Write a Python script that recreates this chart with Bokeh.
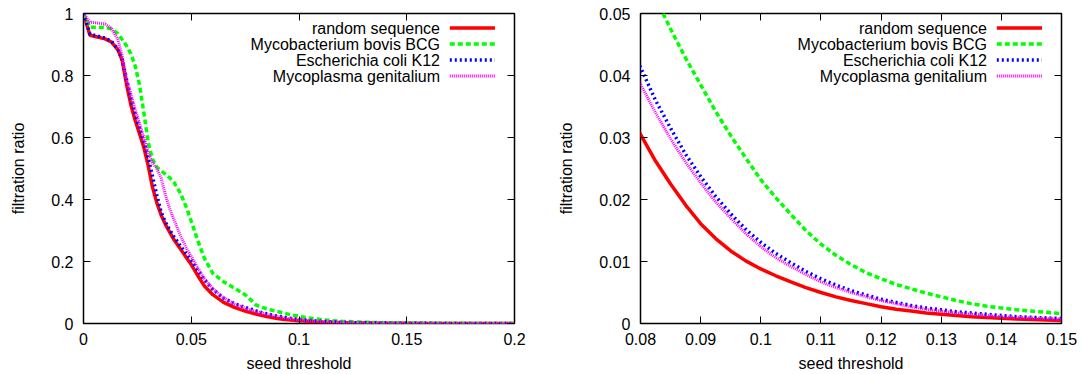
from bokeh.plotting import figure
from bokeh.models import Range1d, LinearAxis, FixedTicker, CustomJSTickFormatter, Label, Arrow
from bokeh.layouts import row
from bokeh.embed import file_html
from bokeh.resources import INLINE

# ---------------- data ----------------
seed_threshold = [0, 0.003, 0.006, 0.01, 0.013, 0.016, 0.018, 0.02, 0.022, 0.024, 0.026, 0.028,
                  0.03, 0.032, 0.034, 0.036, 0.038, 0.04, 0.042, 0.045, 0.048, 0.05, 0.053, 0.056,
                  0.06, 0.065, 0.07, 0.075,
                  0.08, 0.0825, 0.085, 0.0875, 0.09, 0.0925, 0.095, 0.0975, 0.1, 0.1025, 0.105,
                  0.1075, 0.11, 0.1125, 0.115, 0.1175, 0.12, 0.1225, 0.125, 0.1275, 0.13, 0.1325,
                  0.135, 0.1375, 0.14, 0.1425, 0.145, 0.1475, 0.15,
                  0.16, 0.17, 0.18, 0.19, 0.2]

random_sequence = [1.0, 0.93, 0.925, 0.918, 0.908, 0.883, 0.848, 0.77, 0.705, 0.655, 0.612, 0.568,
                   0.51, 0.44, 0.39, 0.35, 0.32, 0.295, 0.27, 0.24, 0.21, 0.19, 0.155, 0.122,
                   0.093, 0.068, 0.052, 0.04,
                   0.0305, 0.0262, 0.0225, 0.0191, 0.0161, 0.0137, 0.0117, 0.0101, 0.0088, 0.0077, 0.0067,
                   0.0058, 0.005, 0.0043, 0.0037, 0.0032, 0.0027, 0.0023, 0.002, 0.0017, 0.0015, 0.0013,
                   0.0011, 0.00097, 0.00085, 0.00074, 0.00064, 0.00055, 0.00047,
                   0.0002, 0.0001, 0.00005, 0.00002, 0.00001]

mycobacterium_bovis_bcg = [1.0, 0.956, 0.956, 0.955, 0.95, 0.935, 0.915, 0.895, 0.87, 0.83, 0.77, 0.68,
                           0.585, 0.53, 0.505, 0.492, 0.482, 0.47, 0.455, 0.42, 0.37, 0.33, 0.268, 0.212,
                           0.162, 0.135, 0.114, 0.093,
                           0.06, 0.0525, 0.0475, 0.0428, 0.0385, 0.0342, 0.0303, 0.0267, 0.0232, 0.0203, 0.0176,
                           0.015, 0.0128, 0.011, 0.0095, 0.0082, 0.0072, 0.0063, 0.0056, 0.0049, 0.0043, 0.0037,
                           0.0032, 0.0028, 0.0025, 0.0022, 0.002, 0.0018, 0.0016,
                           0.001, 0.0006, 0.0004, 0.00025, 0.00015]

escherichia_coli_k12 = [1.0, 0.933, 0.928, 0.921, 0.91, 0.885, 0.85, 0.785, 0.725, 0.675, 0.63, 0.585,
                        0.535, 0.475, 0.415, 0.36, 0.327, 0.302, 0.28, 0.25, 0.222, 0.203, 0.172, 0.142,
                        0.11, 0.082, 0.064, 0.052,
                        0.0413, 0.036, 0.0315, 0.0273, 0.0237, 0.0205, 0.0177, 0.0152, 0.0131, 0.0113, 0.0098,
                        0.0084, 0.0072, 0.0062, 0.0053, 0.0046, 0.0039, 0.0034, 0.0029, 0.0025, 0.0022, 0.0019,
                        0.0017, 0.0015, 0.0013, 0.0011, 0.001, 0.0009, 0.0008,
                        0.0005, 0.0003, 0.00018, 0.0001, 0.00006]

mycoplasma_genitalium = [1.0, 0.972, 0.97, 0.966, 0.952, 0.915, 0.86, 0.79, 0.74, 0.69, 0.645, 0.6,
                         0.552, 0.52, 0.5, 0.47, 0.415, 0.37, 0.335, 0.283, 0.24, 0.216, 0.18, 0.146,
                         0.112, 0.083, 0.063, 0.049,
                         0.0386, 0.034, 0.0298, 0.026, 0.0227, 0.0196, 0.017, 0.0145, 0.0124, 0.0106, 0.0092,
                         0.0079, 0.0067, 0.0058, 0.005, 0.0043, 0.0037, 0.0032, 0.0027, 0.0023, 0.002, 0.0017,
                         0.0015, 0.0013, 0.0011, 0.001, 0.0009, 0.0008, 0.0007,
                         0.0004, 0.00025, 0.00015, 0.00008, 0.00005]

series_names = ["random sequence", "Mycobacterium bovis BCG", "Escherichia coli K12", "Mycoplasma genitalium"]
series_values = [random_sequence, mycobacterium_bovis_bcg, escherichia_coli_k12, mycoplasma_genitalium]

left_x_ticks = [0, 0.05, 0.1, 0.15, 0.2]
left_x_labels = ["0", "0.05", "0.1", "0.15", "0.2"]
left_y_ticks = [0, 0.2, 0.4, 0.6, 0.8, 1.0]
left_y_labels = ["0", "0.2", "0.4", "0.6", "0.8", "1"]
right_x_ticks = [0.08, 0.09, 0.1, 0.11, 0.12, 0.13, 0.14, 0.15]
right_x_labels = ["0.08", "0.09", "0.1", "0.11", "0.12", "0.13", "0.14", "0.15"]
right_y_ticks = [0, 0.01, 0.02, 0.03, 0.04, 0.05]
right_y_labels = ["0", "0.01", "0.02", "0.03", "0.04", "0.05"]

x_label = "seed threshold"
y_label = "filtration ratio"

# ---------------- styles ----------------
FONT = "Liberation Sans"
FS = "16px"
line_styles = [
    dict(line_color="#ff0000", line_width=3.5, line_dash="solid"),
    dict(line_color="#00ff00", line_width=3.5, line_dash="5 3"),
    dict(line_color="#0000ff", line_width=3.5, line_dash="2 3"),
    dict(line_color="#ff00ff", line_width=3.0, line_dash="1 1"),
]

FORMAT_JS = """
for (let i = 0; i < tvals.length; i++) {
    if (Math.abs(tvals[i] - tick) < 1e-9) { return tlabels[i]; }
}
return '';
"""


def make_panel(xlim, ylim, xticks, xlabels, yticks, ylabels, frame_w, border_left, border_right):
    frame_h = 310
    p = figure(frame_width=frame_w, frame_height=frame_h,
               min_border_left=border_left, min_border_right=border_right,
               min_border_top=13, min_border_bottom=51,
               x_range=Range1d(*xlim), y_range=Range1d(*ylim),
               output_backend="svg", toolbar_location=None,
               x_axis_label=x_label, y_axis_label=y_label)
    p.grid.visible = False
    p.background_fill_color = "white"
    p.border_fill_color = "white"
    p.outline_line_color = "black"
    p.outline_line_width = 1.5
    p.outline_line_alpha = 1.0

    for ax, ticks, labels in ((p.xaxis[0], xticks, xlabels), (p.yaxis[0], yticks, ylabels)):
        ax.ticker = FixedTicker(ticks=ticks)
        ax.formatter = CustomJSTickFormatter(args=dict(tvals=ticks, tlabels=labels), code=FORMAT_JS)
        ax.axis_line_color = None
        ax.major_tick_in = 7
        ax.major_tick_out = 0
        ax.major_tick_line_color = "black"
        ax.major_tick_line_width = 1
        ax.minor_tick_line_color = None
        ax.major_label_text_font = FONT
        ax.major_label_text_font_size = FS
        ax.major_label_text_color = "black"
        ax.axis_label_text_font = FONT
        ax.axis_label_text_font_size = FS
        ax.axis_label_text_font_style = "normal"
        ax.axis_label_text_color = "black"
    p.xaxis[0].major_label_standoff = 9
    p.xaxis[0].axis_label_standoff = 7
    p.yaxis[0].major_label_standoff = 10
    p.yaxis[0].axis_label_standoff = 21

    # mirrored ticks on top and right (gnuplot style), no labels
    for side, ticks in (("above", xticks), ("right", yticks)):
        ax = LinearAxis(ticker=FixedTicker(ticks=ticks))
        ax.axis_line_color = None
        ax.major_tick_in = 7
        ax.major_tick_out = 0
        ax.major_tick_line_color = "black"
        ax.minor_tick_line_color = None
        ax.major_label_text_color = None
        ax.major_label_text_font_size = "1px"
        ax.major_label_standoff = 0
        p.add_layout(ax, side)

    for vals, st in zip(series_values, line_styles):
        p.line(seed_threshold, vals, **st)

    # legend (gnuplot style: label right-aligned, sample on the right)
    x0, x1 = xlim
    y0, y1 = ylim
    dx = (x1 - x0) / frame_w
    dy = (y1 - y0) / frame_h
    for i, (name, st) in enumerate(zip(series_names, line_styles)):
        yy = y1 - (14.6 + 16.0 * i) * dy
        p.add_layout(Label(x=x1 - 74.5 * dx, y=yy, text=name, text_align="right",
                           text_baseline="middle", text_font=FONT, text_font_size=FS,
                           text_color="black"))
        p.add_layout(Arrow(end=None, x_start=x1 - 64.7 * dx, y_start=yy,
                           x_end=x1 - 19.5 * dx, y_end=yy,
                           line_color=st["line_color"], line_width=st["line_width"],
                           line_dash=st["line_dash"]))
    return p


left = make_panel((0, 0.2), (0, 1), left_x_ticks, left_x_labels, left_y_ticks, left_y_labels,
                  431, 83, 26)
right = make_panel((0.08, 0.15), (0, 0.05), right_x_ticks, right_x_labels, right_y_ticks, right_y_labels,
                   421, 100, 21)

layout = row(left, right)
open("out.html", "w").write(file_html(layout, INLINE))
